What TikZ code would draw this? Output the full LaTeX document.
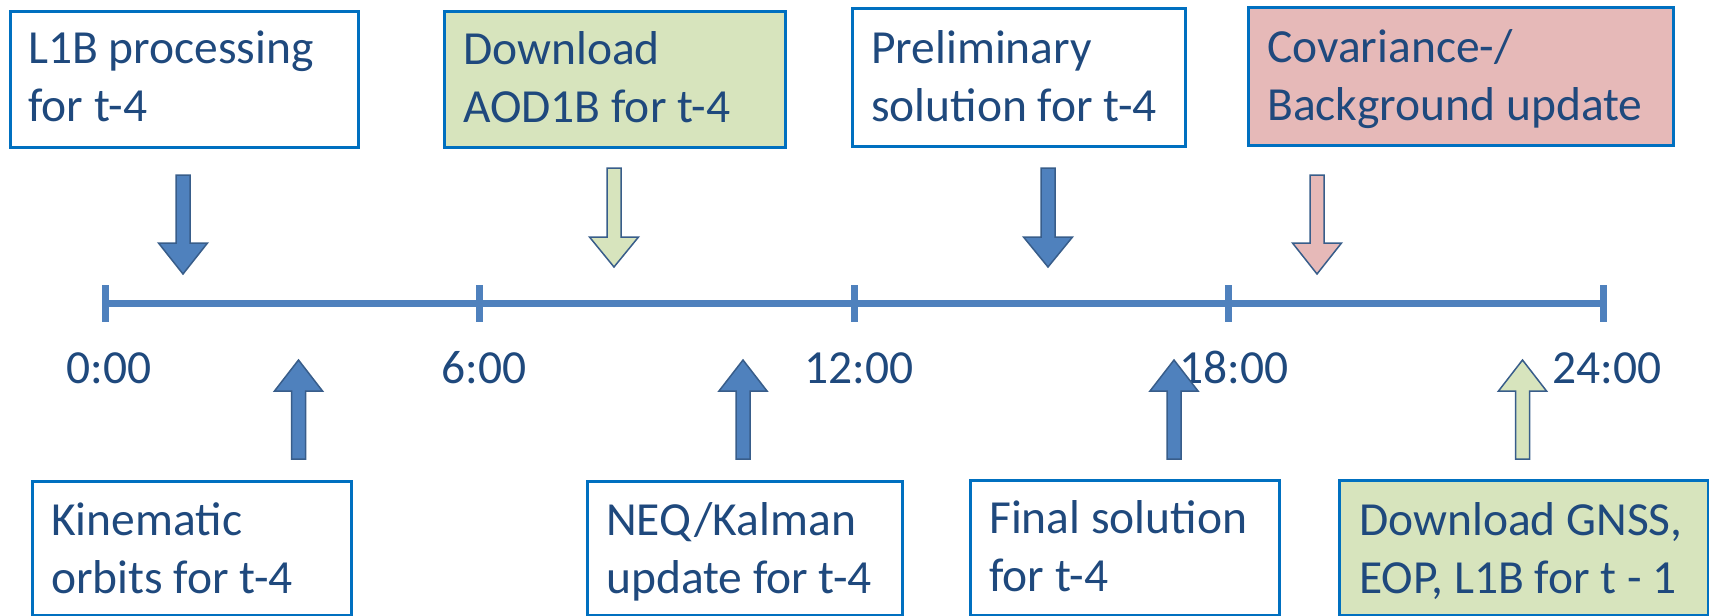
\documentclass[tikz,border=0pt]{standalone}
\usepackage{fontspec}
\setmainfont{Carlito}
\definecolor{txtc}{HTML}{1F497D}
\definecolor{boxc}{HTML}{0070C0}
\definecolor{linec}{HTML}{4F81BD}
\definecolor{arrline}{HTML}{385D8A}
\definecolor{greenf}{HTML}{D7E4BD}
\definecolor{pinkf}{HTML}{E6B9B8}
\newcommand{\twol}[2]{\begin{tabular}[t]{@{}l@{}}#1\\#2\end{tabular}}
\begin{document}
\begin{tikzpicture}[x=1pt,y=-1pt,
  boxst/.style={draw=boxc,line width=3.3pt,rectangle,inner sep=0pt,anchor=north west},
  txt/.style={text=txtc,font=\fontsize{47.5}{58.5}\selectfont,inner sep=0pt,anchor=base west},
  tl/.style={draw=linec,line width=7pt},
  arr/.style={draw=arrline,line width=1.5pt,line join=miter}]
\path[use as bounding box] (0,0) rectangle (1709,616);
% top boxes
\node[boxst,minimum width=348pt,minimum height=136pt] (b1) at (9,10) {};
\node[txt] (t1) at (28,63) {\twol{L1B processing}{for t-4}};
\node[boxst,fill=greenf,minimum width=341pt,minimum height=136pt] (b2) at (443,10) {};
\node[txt] (t2) at (463,64) {\twol{Download}{AOD1B for t-4}};
\node[boxst,minimum width=333pt,minimum height=138pt] (b3) at (851,7) {};
\node[txt] (t3) at (871,63) {\twol{Preliminary}{solution for t-4}};
\node[boxst,fill=pinkf,minimum width=425pt,minimum height=138pt] (b4) at (1247,6) {};
\node[txt] (t4) at (1267,62) {\twol{Covariance-/}{Background update}};
% bottom boxes
\node[boxst,minimum width=319pt,minimum height=134pt] (b5) at (31,480) {};
\node[txt] (t5) at (51,535) {\twol{Kinematic}{orbits for t-4}};
\node[boxst,minimum width=315pt,minimum height=134pt] (b6) at (586,480) {};
\node[txt] (t6) at (606,535) {\twol{NEQ/Kalman}{update for t-4}};
\node[boxst,minimum width=309pt,minimum height=135pt] (b7) at (969,479) {};
\node[txt] (t7) at (989,533) {\twol{Final solution}{for t-4}};
\node[boxst,fill=greenf,minimum width=369pt,minimum height=135pt] (b8) at (1338,479) {};
\node[txt] (t8) at (1359,535) {\twol{Download GNSS,}{EOP, L1B for t - 1}};
% timeline
\coordinate (k0) at (105,303);
\coordinate (k4) at (1603,303);
\draw[tl] (k0) -- (k4);
\foreach \x in {105,479.5,854,1228.5,1603}{\draw[tl] (\x,285) -- (\x,322);}
% time labels
\node[txt] (h0) at (66,383) {0:00};
\node[txt] (h6) at (441,383) {6:00};
\node[txt] (h12) at (804,383) {12:00};
\node[txt] (h18) at (1179,383) {18:00};
\node[txt] (h24) at (1552,383) {24:00};
% down arrows
\newcommand{\downarr}[5]{%
  \draw[arr,fill=#5] (#1-7,#2) -- (#1+7,#2) -- (#1+7,#3) -- (#1+24.5,#3) -- (#1,#4) -- (#1-24.5,#3) -- (#1-7,#3) -- cycle;}
\downarr{183}{175}{243}{274}{linec}
\downarr{614}{168}{237}{267}{greenf}
\downarr{1048}{168}{237}{267}{linec}
\downarr{1317}{175}{243}{274}{pinkf}
% up arrows
\newcommand{\uparr}[2]{%
  \draw[arr,fill=#2] (#1-7,459) -- (#1+7,459) -- (#1+7,391) -- (#1+24,391) -- (#1,360) -- (#1-24,391) -- (#1-7,391) -- cycle;}
\uparr{298.5}{linec}
\uparr{743}{linec}
\uparr{1174}{linec}
\uparr{1522.5}{greenf}
\end{tikzpicture}
\end{document}
